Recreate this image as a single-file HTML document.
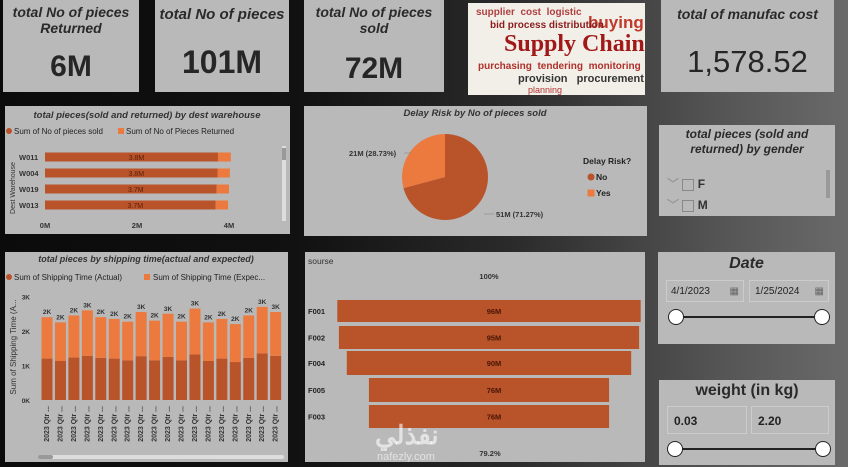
<!DOCTYPE html>
<html><head><meta charset="utf-8">
<style>
body{margin:0;width:848px;height:467px;overflow:hidden;font-family:"Liberation Sans",sans-serif;background:linear-gradient(90deg,#0b0b0b 0%,#111 35%,#2a2a2a 60%,#555 85%,#6a6a6a 100%);position:relative}
.p{position:absolute;background:#b9b9b9;color:#222}
.t{font-style:italic;font-weight:bold;text-align:center;color:#2a2a2a}
.kv{position:absolute;left:0;right:0;text-align:center;font-weight:bold;color:#262626}
svg text{font-family:"Liberation Sans",sans-serif}
</style></head><body>
<div class="p" style="left:3px;top:0;width:136px;height:92px">
<div class="t" style="font-size:14px;line-height:16px;margin-top:4px">total No of pieces<br>Returned</div>
<div class="kv" style="top:50px;font-size:30px">6M</div></div>
<div class="p" style="left:155px;top:0;width:134px;height:92px">
<div class="t" style="font-size:15px;margin-top:6px">total No of pieces</div>
<div class="kv" style="top:44px;font-size:32px">101M</div></div>
<div class="p" style="left:304px;top:0;width:140px;height:92px">
<div class="t" style="font-size:14px;line-height:16px;margin-top:4px">total No of pieces<br>sold</div>
<div class="kv" style="top:52px;font-size:30px">72M</div></div>
<div style="position:absolute;left:468px;top:3px;width:177px;height:92px;background:#f2efe9;overflow:hidden">
<div style="position:absolute;left:8px;top:4px;font-size:10px;color:#b04040;font-weight:bold">supplier &nbsp;cost &nbsp;logistic</div>
<div style="position:absolute;left:120px;top:10px;font-size:17px;color:#c0392b;font-weight:bold">buying</div>
<div style="position:absolute;left:22px;top:17px;font-size:10px;color:#8b1c1c;font-weight:bold">bid process distribution</div>
<div style="position:absolute;left:36px;top:28px;font-size:24px;color:#a01818;font-weight:bold;font-family:'Liberation Serif',serif">Supply Chain</div>
<div style="position:absolute;left:10px;top:58px;font-size:10px;color:#b0302a;font-weight:bold">purchasing &nbsp;tendering &nbsp;monitoring</div>
<div style="position:absolute;left:50px;top:70px;font-size:11px;color:#333;font-weight:bold">provision &nbsp;&nbsp;procurement</div>
<div style="position:absolute;left:60px;top:82px;font-size:9px;color:#b03030">planning</div>
</div>
<div class="p" style="left:661px;top:0;width:173px;height:92px">
<div class="t" style="font-size:14px;margin-top:6px">total of manufac cost</div>
<div class="kv" style="top:44px;font-size:31px;font-weight:normal">1,578.52</div></div>

<div class="p" style="left:5px;top:106px;width:285px;height:128px">
<svg id="wh" width="285" height="128"></svg></div>
<div class="p" style="left:304px;top:106px;width:343px;height:130px">
<svg id="pie" width="343" height="130"></svg></div>
<div class="p" style="left:659px;top:125px;width:176px;height:91px">
<div class="t" style="font-size:12px;line-height:15px;margin-top:2px">total pieces (sold and<br>returned) by gender</div>
<div style="position:absolute;left:8px;top:50px;font-size:12px;font-weight:bold;color:#333"><span style="color:#999">﹀</span> <span style="display:inline-block;width:10px;height:10px;border:1px solid #888;vertical-align:middle"></span> F</div>
<div style="position:absolute;left:8px;top:71px;font-size:12px;font-weight:bold;color:#333"><span style="color:#999">﹀</span> <span style="display:inline-block;width:10px;height:10px;border:1px solid #888;vertical-align:middle"></span> M</div>
<div style="position:absolute;left:167px;top:45px;width:4px;height:28px;background:#999"></div></div>

<div class="p" style="left:5px;top:252px;width:283px;height:210px">
<svg id="sh" width="283" height="210"></svg></div>
<div class="p" style="left:305px;top:252px;width:340px;height:210px">
<svg id="fn" width="340" height="210"></svg></div>

<div class="p" style="left:658px;top:252px;width:177px;height:92px">
<div class="t" style="font-size:16px;margin-top:3px">Date</div>
<div style="position:absolute;left:8px;top:28px;width:78px;height:22px;border:1px solid #ccc;font-size:10px;line-height:22px;padding-left:4px;box-sizing:border-box">4/1/2023 <span style="float:right;margin-right:4px;color:#666">▦</span></div>
<div style="position:absolute;left:91px;top:28px;width:80px;height:22px;border:1px solid #ccc;font-size:10px;line-height:22px;padding-left:5px;box-sizing:border-box">1/25/2024 <span style="float:right;margin-right:4px;color:#666">▦</span></div>
<div style="position:absolute;left:18px;top:64px;width:146px;height:2px;background:#222"></div>
<div style="position:absolute;left:10px;top:57px;width:14px;height:14px;border-radius:50%;background:#fff;border:1px solid #222"></div>
<div style="position:absolute;left:156px;top:57px;width:14px;height:14px;border-radius:50%;background:#fff;border:1px solid #222"></div></div>

<div class="p" style="left:659px;top:380px;width:176px;height:85px">
<div style="font-size:16px;font-weight:bold;text-align:center;margin-top:2px;color:#2a2a2a">weight (in kg)</div>
<div style="position:absolute;left:8px;top:26px;width:80px;height:28px;border:1px solid #ccc;font-size:12px;font-weight:bold;line-height:28px;padding-left:6px;box-sizing:border-box">0.03</div>
<div style="position:absolute;left:92px;top:26px;width:78px;height:28px;border:1px solid #ccc;font-size:12px;font-weight:bold;line-height:28px;padding-left:6px;box-sizing:border-box">2.20</div>
<div style="position:absolute;left:18px;top:68px;width:146px;height:2px;background:#222"></div>
<div style="position:absolute;left:8px;top:61px;width:14px;height:14px;border-radius:50%;background:#fff;border:1px solid #222"></div>
<div style="position:absolute;left:156px;top:61px;width:14px;height:14px;border-radius:50%;background:#fff;border:1px solid #222"></div></div>

<script>
const DARK='#b8532a',LIGHT='#ec7a3e',NS='http://www.w3.org/2000/svg';
function el(p,tag,a,txt){const e=document.createElementNS(NS,tag);for(const k in a)e.setAttribute(k,a[k]);if(txt!==undefined)e.textContent=txt;p.appendChild(e);return e;}

// Warehouse data
const whCats=['W011','W004','W019','W013'];
const whSold=[3.76,3.75,3.73,3.71];
const whRet=[0.28,0.27,0.27,0.27];
const whLabels=['3.8M','3.8M','3.7M','3.7M'];
const whTicks=[0,2,4];
// Pie data
const pieCats=['No','Yes'];
const pieVals=[51,21];
const pieLabels=['51M (71.27%)','21M (28.73%)'];
// Shipping data
const shActual=[1.2,1.13,1.23,1.28,1.22,1.2,1.15,1.27,1.15,1.25,1.15,1.32,1.13,1.2,1.1,1.22,1.35,1.28];
const shExpected=[1.2,1.12,1.22,1.32,1.18,1.15,1.12,1.28,1.15,1.25,1.12,1.33,1.12,1.15,1.1,1.23,1.35,1.27];
const shTicks=[0,1,2,3];
// Funnel data
const fnCats=['F001','F002','F004','F005','F003'];
const fnVals=[96,95,90,76,76];

(function(){
const s=document.getElementById('wh');
el(s,'text',{x:142,y:12,'font-size':9.5,'font-weight':'bold','font-style':'italic','text-anchor':'middle',fill:'#333'},'total pieces(sold and returned) by dest warehouse');
el(s,'circle',{cx:4,cy:25,r:3,fill:DARK});
el(s,'text',{x:9,y:28,'font-size':8,fill:'#222'},'Sum of No of pieces sold');
el(s,'rect',{x:113,y:22,width:6,height:6,fill:LIGHT});
el(s,'text',{x:121,y:28,'font-size':8,fill:'#222'},'Sum of No of Pieces Returned');
const x=v=>40+v*46, y0=51, step=16;
el(s,'text',{transform:'translate(10,82) rotate(-90)','font-size':7,'text-anchor':'middle',fill:'#333'},'Dest Warehouse');
whCats.forEach((c,i)=>{const cy=y0+i*step;
 el(s,'text',{x:14,y:cy+3,'font-size':7.5,'font-weight':'bold',fill:'#333'},c);
 const r1=el(s,'rect',{x:x(0),y:cy-4.5,width:x(whSold[i])-x(0),height:9,fill:DARK});
 const r2=el(s,'rect',{x:x(whSold[i]),y:cy-4.5,width:x(whRet[i])-x(0),height:9,fill:LIGHT});
 el(s,'text',{x:x(whSold[i]/2)+5,y:cy+3,'font-size':7,'text-anchor':'middle',fill:'#5a1e08'},whLabels[i]);});
whTicks.forEach(t=>el(s,'text',{x:x(t),y:122,'font-size':7.5,'font-weight':'bold','text-anchor':'middle',fill:'#333'},t+'M'));
el(s,'rect',{x:277,y:40,width:4,height:75,fill:'#ddd'});el(s,'rect',{x:277,y:42,width:4,height:12,fill:'#999'});
})();

(function(){
const s=document.getElementById('pie');
el(s,'text',{x:171,y:10,'font-size':9.5,'font-weight':'bold','font-style':'italic','text-anchor':'middle',fill:'#333'},'Delay Risk by No of pieces sold');
const cx=141,cy=71,r=43,tot=pieVals.reduce((a,b)=>a+b,0);let a=0;const cols=[DARK,LIGHT];
pieVals.forEach((v,i)=>{const a1=a+v/tot*2*Math.PI;
 const p=(t)=>[cx+r*Math.sin(t),cy-r*Math.cos(t)];const [x0,y0]=p(a),[x1,y1]=p(a1);
 const path=el(s,'path',{d:`M${cx},${cy}L${x0},${y0}A${r},${r} 0 ${a1-a>Math.PI?1:0} 1 ${x1},${y1}Z`,fill:cols[i]});
 a=a1;});
el(s,'line',{x1:180,y1:108,x2:190,y2:108,stroke:'#888','stroke-width':0.6});
el(s,'text',{x:192,y:111,'font-size':7.5,'font-weight':'bold',fill:'#333'},pieLabels[0]);
el(s,'line',{x1:100,y1:47,x2:108,y2:47,stroke:'#888','stroke-width':0.6});
el(s,'text',{x:45,y:50,'font-size':7.5,'font-weight':'bold',fill:'#333'},pieLabels[1]);
el(s,'text',{x:279,y:58,'font-size':8.5,'font-weight':'bold',fill:'#222'},'Delay Risk?');
pieCats.forEach((c,i)=>{if(i==0)el(s,'circle',{cx:287,cy:71+i*16,r:3.5,fill:cols[i]});else el(s,'rect',{x:283.5,y:67.5+i*16,width:7,height:7,fill:cols[i]});
 el(s,'text',{x:292,y:74+i*16,'font-size':8.5,'font-weight':'bold',fill:'#222'},c);});
})();

(function(){
const s=document.getElementById('sh');
el(s,'text',{x:141,y:10,'font-size':9,'font-weight':'bold','font-style':'italic','text-anchor':'middle',fill:'#333'},'total pieces by shipping time(actual and expected)');
el(s,'circle',{cx:4,cy:25,r:3,fill:DARK});
el(s,'text',{x:9,y:28,'font-size':8,fill:'#222'},'Sum of Shipping Time (Actual)');
el(s,'rect',{x:139,y:22,width:6,height:6,fill:LIGHT});
el(s,'text',{x:148,y:28,'font-size':8,fill:'#222'},'Sum of Shipping Time (Expec...');
const y=v=>148-v*34.5, x0=36.5, step=13.45, bw=11;
el(s,'text',{transform:'translate(11,95) rotate(-90)','font-size':8,'text-anchor':'middle',fill:'#333'},'Sum of Shipping Time (A...');
shTicks.forEach(t=>el(s,'text',{x:25,y:y(t)+3,'font-size':6.5,'font-weight':'bold','text-anchor':'end',fill:'#333'},t+'K'));
shActual.forEach((v,i)=>{const bx=x0+i*step,e=shExpected[i],tot=v+e;
 const r1=el(s,'rect',{x:bx,y:y(v),width:bw,height:y(0)-y(v),fill:DARK});
 const r2=el(s,'rect',{x:bx,y:y(tot),width:bw,height:y(v)-y(tot),fill:LIGHT});
 el(s,'text',{x:bx+bw/2,y:y(tot)-3,'font-size':6.5,'font-weight':'bold','text-anchor':'middle',fill:'#333'},Math.round(tot)+'K');
 el(s,'text',{transform:`translate(${bx+bw/2+2},${y(0)+6}) rotate(-90)`,'font-size':7,'font-weight':'bold','text-anchor':'end',fill:'#333'},'2023 Qtr ...');});
el(s,'rect',{x:33,y:203,width:246,height:4,fill:'#ddd',rx:2});el(s,'rect',{x:33,y:203,width:15,height:4,fill:'#999',rx:2});
})();

(function(){
const s=document.getElementById('fn');
el(s,'text',{x:3,y:12,'font-size':8.5,fill:'#333'},'sourse');
el(s,'text',{x:184,y:27,'font-size':7.5,'font-weight':'bold','text-anchor':'middle',fill:'#333'},'100%');
const cx=184,k=3.16,hs=[22,23,24,24,23],ys=[48,74,99,126,153];
fnCats.forEach((c,i)=>{const w=fnVals[i]*k;
 el(s,'text',{x:3,y:ys[i]+hs[i]/2+3,'font-size':7.5,'font-weight':'bold',fill:'#222'},c);
 const r=el(s,'rect',{x:cx-w/2,y:ys[i],width:w,height:hs[i],fill:DARK});
 el(s,'text',{x:cx+5,y:ys[i]+hs[i]/2+3,'font-size':7.5,'font-weight':'bold','text-anchor':'middle',fill:'#4a1505'},fnVals[i]+'M');});
el(s,'text',{x:185,y:204,'font-size':7.5,'font-weight':'bold','text-anchor':'middle',fill:'#333'},(fnVals[fnVals.length-1]/fnVals[0]*100).toFixed(1)+'%');
el(s,'text',{x:70,y:192,'font-size':26,'font-weight':'bold',fill:'#ffffff','fill-opacity':0.6,'font-family':'DejaVu Sans'},'نفذلي');
el(s,'text',{x:72,y:208,'font-size':11,fill:'#ffffff','fill-opacity':0.6},'nafezly.com');
})();
</script>
</body></html>
